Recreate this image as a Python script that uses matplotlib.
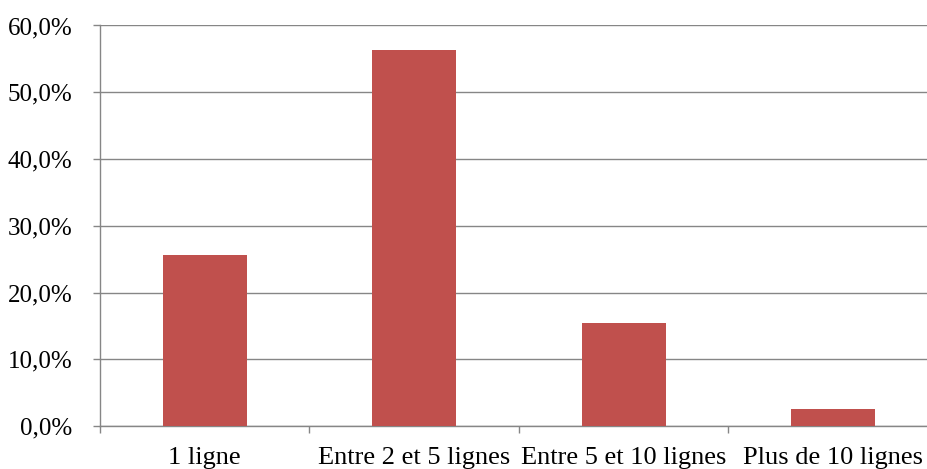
import numpy as np
import matplotlib.pyplot as plt
from matplotlib.ticker import FuncFormatter, MultipleLocator

categories = ['1 ligne', 'Entre 2 et 5 lignes', 'Entre 5 et 10 lignes', 'Plus de 10 lignes']
values = [25.6, 56.4, 15.4, 2.6]

plt.rcParams['font.family'] = ['Liberation Serif', 'DejaVu Serif']

W, H = 928, 469
fig = plt.figure(figsize=(W / 100, H / 100), dpi=100)
# plot area runs a little past the right edge, as in the original
ax = fig.add_axes([100 / W, (H - 426) / H, 838 / W, (426 - 25.5) / H])

x = np.arange(len(categories))
ax.bar(x, values, width=0.4, color='#C0504D', zorder=3)

ax.set_xlim(-0.5, len(categories) - 0.5)
ax.set_ylim(0, 60)

grid_col = '#868686'
ax.yaxis.set_major_locator(MultipleLocator(10))
ax.yaxis.set_major_formatter(FuncFormatter(lambda v, p: '{:.1f}%'.format(v).replace('.', ',')))
ax.grid(axis='y', color=grid_col, linewidth=1.0, zorder=0)

ax.set_xticks(x)
ax.set_xticklabels(categories)
ax.set_xticks(np.arange(len(categories) + 1) - 0.5, minor=True)
ax.tick_params(axis='x', which='major', length=0, pad=15, labelsize=19)
ax.tick_params(axis='x', which='minor', length=5, color=grid_col, width=1.0)
ax.tick_params(axis='y', length=5, color=grid_col, width=1.0, pad=15, labelsize=18)

for s in ['top', 'right']:
    ax.spines[s].set_visible(False)
for s in ['left', 'bottom']:
    ax.spines[s].set_color(grid_col)
    ax.spines[s].set_linewidth(1.0)

fig.savefig('out.png', dpi=100)
